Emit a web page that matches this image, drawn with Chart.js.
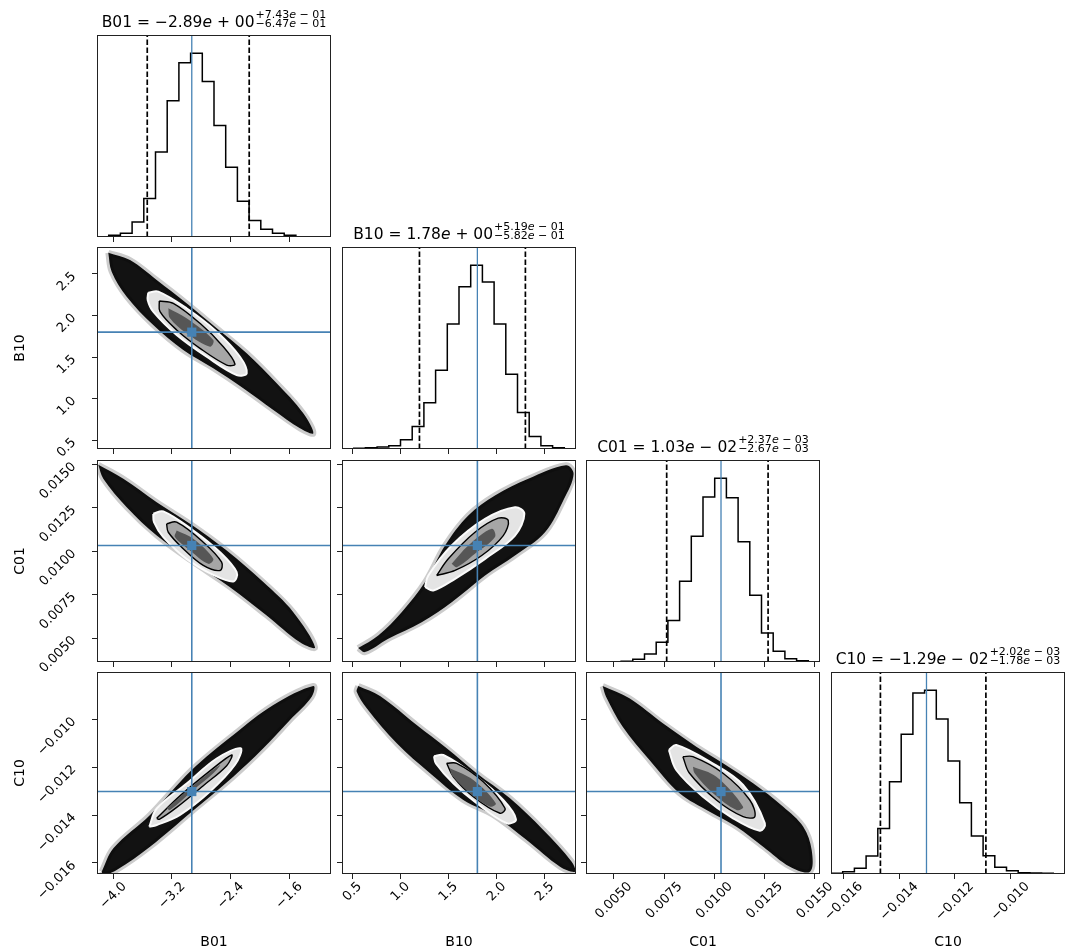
<!DOCTYPE html>
<html>
<head>
<meta charset="utf-8">
<script src="https://cdn.jsdelivr.net/npm/chart.js@4.4.1/dist/chart.umd.min.js"></script>
<style>
  body { margin: 0; background: #fff; width: 1066px; height: 949px; position: relative; overflow: hidden; font-family: 'DejaVu Sans', sans-serif; color: #000; }
  canvas { position: absolute; }
  .ttl { position: absolute; width: 320px; text-align: center; white-space: nowrap; font-size: 15.5px; line-height: 16px; z-index: 2; }
  .ss { display: inline-block; vertical-align: 0; font-size: 11px; line-height: 8.5px; text-align: left; margin-left: 1px; }
  .ss span { display: block; }
  .xl { position: absolute; width: 100px; text-align: center; font-size: 14px; line-height: 16px; z-index: 2; }
  .yl { position: absolute; width: 60px; text-align: center; font-size: 14px; line-height: 16px; transform: rotate(-90deg); z-index: 2; }
</style>
</head>
<body>
<script>
// ============================================
// CORNER PLOT: B01, B10, C01, C10
// ============================================

const names = ['B01', 'B10', 'C01', 'C10'];
const titleMid = ['\u22122.89e + 00', '1.78e + 00', '1.03e \u2212 02', '\u22121.29e \u2212 02'];
const titleUp = ['+7.43e \u2212 01', '+5.19e \u2212 01', '+2.37e \u2212 03', '+2.02e \u2212 03'];
const titleLo = ['\u22126.47e \u2212 01', '\u22125.82e \u2212 01', '\u22122.67e \u2212 03', '\u22121.78e \u2212 03'];

// axis ranges
const b01Range = [-4.222, -1.032];
const b10Range = [0.393, 2.825];
const c01Range = [0.00362, 0.01525];
const c10Range = [-0.01646, -0.00803];

// ticks
const b01Ticks = [-4.0, -3.2, -2.4, -1.6];
const b10Ticks = [0.5, 1.0, 1.5, 2.0, 2.5];
const c01Ticks = [0.005, 0.0075, 0.01, 0.0125, 0.015];
const c10Ticks = [-0.016, -0.014, -0.012, -0.010];
const b01TickText = ['\u22124.0', '\u22123.2', '\u22122.4', '\u22121.6'];
const b10TickText = ['0.5', '1.0', '1.5', '2.0', '2.5'];
const c01TickText = ['0.0050', '0.0075', '0.0100', '0.0125', '0.0150'];
const c10TickText = ['\u22120.016', '\u22120.014', '\u22120.012', '\u22120.010'];

// truth values and 16/84 quantiles
const truths = [-2.93, 1.80, 0.01033, -0.01302];
const q16 = [-3.537, 1.198, 0.00763, -0.01468];
const q84 = [-2.147, 2.299, 0.01267, -0.01088];

// histogram counts (20 bins over each axis range)
const b01Counts = [1, 5, 11, 45, 116, 256, 410, 525, 553, 468, 336, 210, 108, 50, 23, 11, 5, 1, 0, 0];
const b10Counts = [0, 2, 4, 6, 10, 28, 68, 140, 238, 378, 490, 555, 505, 378, 226, 110, 38, 10, 4, 1];
const c01Counts = [0, 0, 1, 2, 8, 24, 59, 124, 242, 377, 494, 550, 492, 360, 200, 87, 32, 10, 4, 1];
const c10Counts = [2, 7, 17, 54, 137, 277, 420, 544, 552, 466, 340, 214, 114, 55, 20, 10, 4, 3, 2, 0];

// 2D panels: sample cloud outline and density contours [x, y]
// B10 vs B01
const b10b01Cloud = [[-4.068,2.756],[-3.772,2.668],[-3.408,2.428],[-3.001,2.147],[-2.590,1.846],[-2.181,1.545],[-1.772,1.184],[-1.410,0.823],[-1.273,0.582],[-1.455,0.642],[-1.818,0.863],[-2.228,1.124],[-2.637,1.365],[-3.046,1.585],[-3.455,1.886],[-3.817,2.227],[-4.022,2.528]];
const b10b01Outer = [[-3.523,2.275],[-3.386,2.287],[-3.001,2.087],[-2.590,1.805],[-2.273,1.504],[-2.181,1.304],[-2.318,1.284],[-2.727,1.504],[-3.136,1.766],[-3.455,2.046],[-3.531,2.187]];
const b10b01Inner = [[-3.373,2.175],[-3.182,2.147],[-2.818,1.906],[-2.500,1.625],[-2.341,1.416],[-2.454,1.404],[-2.818,1.605],[-3.136,1.826],[-3.363,2.046]];
const b10b01Core = [[-3.250,2.087],[-3.001,1.967],[-2.637,1.705],[-2.682,1.625],[-3.001,1.786],[-3.227,1.967]];
// C01 vs B01
const c01b01Cloud = [[-4.204,0.01497],[-3.863,0.01417],[-3.408,0.01282],[-2.954,0.01158],[-2.454,0.01004],[-1.955,0.00822],[-1.546,0.00649],[-1.250,0.00447],[-1.455,0.00476],[-1.909,0.00630],[-2.409,0.00793],[-2.909,0.00937],[-3.408,0.01090],[-3.817,0.01253],[-4.136,0.01417]];
const c01b01Outer = [[-3.455,0.01215],[-3.318,0.01229],[-2.909,0.01119],[-2.545,0.00994],[-2.318,0.00879],[-2.363,0.00826],[-2.637,0.00864],[-3.001,0.00956],[-3.318,0.01081],[-3.445,0.01167]];
const c01b01Inner = [[-3.273,0.01158],[-3.136,0.01167],[-2.773,0.01052],[-2.523,0.00937],[-2.545,0.00889],[-2.773,0.00918],[-3.046,0.01014],[-3.250,0.01109]];
const c01b01Core = [[-3.136,0.01119],[-2.909,0.01071],[-2.637,0.00956],[-2.705,0.00927],[-2.954,0.01004],[-3.159,0.01081]];
// C01 vs B10
const c01b10Cloud = [[0.562,0.00442],[0.770,0.00515],[1.013,0.00649],[1.256,0.00822],[1.464,0.01033],[1.706,0.01206],[1.983,0.01321],[2.329,0.01417],[2.720,0.01495],[2.800,0.01445],[2.700,0.01300],[2.503,0.01109],[2.191,0.00975],[1.880,0.00860],[1.533,0.00706],[1.221,0.00591],[0.874,0.00496],[0.632,0.00419]];
const c01b10Outer = [[1.256,0.00793],[1.290,0.00860],[1.533,0.01033],[1.880,0.01186],[2.191,0.01253],[2.288,0.01215],[2.191,0.01090],[1.880,0.00956],[1.568,0.00841],[1.342,0.00774]];
const c01b10Inner = [[1.377,0.00860],[1.498,0.00956],[1.775,0.01109],[2.017,0.01190],[2.121,0.01177],[2.069,0.01090],[1.845,0.00975],[1.568,0.00889]];
const c01b10Core = [[1.533,0.00927],[1.706,0.01033],[1.949,0.01129],[1.983,0.01081],[1.775,0.00985],[1.585,0.00908]];
// C10 vs B01
const c10b01Cloud = [[-4.158,-0.016363],[-3.999,-0.015387],[-3.499,-0.013997],[-2.931,-0.012120],[-2.364,-0.010659],[-1.818,-0.009407],[-1.273,-0.008614],[-1.295,-0.009061],[-1.591,-0.010033],[-1.955,-0.011214],[-2.364,-0.012399],[-2.931,-0.013860],[-3.499,-0.015320],[-3.954,-0.016292],[-4.136,-0.016501]];
const c10b01Outer = [[-3.509,-0.014486],[-3.408,-0.013727],[-2.999,-0.012683],[-2.590,-0.011640],[-2.263,-0.011214],[-2.341,-0.011902],[-2.682,-0.013017],[-3.091,-0.013989],[-3.408,-0.014415]];
const c10b01Inner = [[-3.408,-0.014135],[-3.091,-0.013200],[-2.682,-0.012157],[-2.386,-0.011494],[-2.454,-0.011940],[-2.773,-0.012775],[-3.136,-0.013680],[-3.373,-0.014177]];
const c10b01Core = [[-3.273,-0.013718],[-2.818,-0.012537],[-2.545,-0.011912],[-2.637,-0.012257],[-2.909,-0.012954],[-3.227,-0.013789]];
// C10 vs B10
const c10b10Cloud = [[0.562,-0.008614],[0.788,-0.009031],[1.169,-0.010242],[1.481,-0.011214],[1.793,-0.012257],[2.139,-0.013300],[2.485,-0.014623],[2.780,-0.015946],[2.815,-0.016363],[2.659,-0.016155],[2.312,-0.015041],[1.965,-0.013997],[1.654,-0.013371],[1.308,-0.012257],[0.962,-0.011005],[0.650,-0.009544],[0.546,-0.008852]];
const c10b10Outer = [[1.349,-0.011549],[1.446,-0.011494],[1.793,-0.012399],[2.069,-0.013371],[2.201,-0.014177],[2.105,-0.014344],[1.793,-0.013510],[1.550,-0.012675],[1.369,-0.011840]];
const c10b10Inner = [[1.481,-0.011840],[1.585,-0.011840],[1.861,-0.012608],[2.087,-0.013718],[2.035,-0.013926],[1.758,-0.013234],[1.550,-0.012399]];
const c10b10Core = [[1.515,-0.012049],[1.758,-0.012537],[1.991,-0.013510],[1.931,-0.013651],[1.723,-0.013092],[1.533,-0.012329]];
// C10 vs C01
const c10c01Cloud = [[0.004448,-0.008614],[0.005779,-0.009127],[0.007439,-0.010172],[0.009104,-0.011147],[0.010430,-0.011840],[0.011925,-0.012675],[0.013421,-0.013651],[0.014418,-0.014486],[0.014836,-0.015459],[0.014752,-0.016363],[0.013755,-0.016155],[0.012424,-0.015320],[0.011098,-0.014486],[0.009768,-0.013860],[0.008271,-0.013092],[0.006775,-0.011702],[0.005444,-0.010313],[0.004617,-0.009061]];
const c10c01Outer = [[0.007738,-0.011285],[0.008107,-0.011077],[0.009768,-0.011772],[0.011427,-0.012746],[0.012509,-0.014344],[0.012259,-0.014653],[0.010928,-0.014135],[0.009432,-0.013234],[0.008107,-0.012120]];
const c10c01Inner = [[0.008436,-0.011564],[0.008936,-0.011564],[0.010430,-0.012257],[0.011760,-0.013371],[0.012010,-0.014068],[0.011427,-0.014068],[0.010099,-0.013371],[0.008766,-0.012257]];
const c10c01Core = [[0.008936,-0.011982],[0.010099,-0.012399],[0.011427,-0.013651],[0.011098,-0.013789],[0.009933,-0.013092],[0.009018,-0.012257]];

const ranges = [b01Range, b10Range, c01Range, c10Range];
const tickVals = [b01Ticks, b10Ticks, c01Ticks, c10Ticks];
const tickText = [b01TickText, b10TickText, c01TickText, c10TickText];
const counts = [b01Counts, b10Counts, c01Counts, c10Counts];

// Layout
const colX = [97, 342, 586, 831];
const rowY = [35, 247, 460, 672];
const PW = 234, PH = 202;
const ML = 97, MT = 26, MR = 26, MB = 75;
const BLUE = '#4682b4';
const TICK_FONT = '13px "DejaVu Sans", sans-serif';

Chart.defaults.font.family = "'DejaVu Sans', sans-serif";
Chart.defaults.color = '#000';

// Panel frame (all four sides)
const framePlugin = {
    id: 'frame',
    afterDraw(chart) {
        const {ctx, chartArea: a} = chart;
        ctx.save();
        ctx.strokeStyle = '#222';
        ctx.lineWidth = 1;
        ctx.strokeRect(a.left + 0.5, a.top + 0.5, a.width - 1, a.height - 1);
        ctx.restore();
    }
};

// Rotated tick labels, placed like matplotlib's 45 degree labels
const tickLabelPlugin = {
    id: 'tickLabels',
    afterDraw(chart, args, opts) {
        const {ctx, chartArea: a} = chart;
        ctx.save();
        ctx.font = TICK_FONT;
        ctx.fillStyle = '#000';
        ctx.textAlign = 'right';
        ctx.textBaseline = 'middle';
        if (opts.xCol !== undefined) {
            const s = chart.scales.x;
            tickVals[opts.xCol].forEach((v, i) => {
                const txt = tickText[opts.xCol][i];
                const L = ctx.measureText(txt).width;
                ctx.save();
                ctx.translate(s.getPixelForValue(v) + 0.354 * L, a.bottom + 10.5);
                ctx.rotate(-Math.PI / 4);
                ctx.fillText(txt, 0, 0);
                ctx.restore();
            });
        }
        if (opts.yRow !== undefined) {
            const s = chart.scales.y;
            tickVals[opts.yRow].forEach((v, i) => {
                ctx.save();
                ctx.translate(a.left - 23, s.getPixelForValue(v) + 0.5);
                ctx.rotate(-Math.PI / 4);
                ctx.fillText(tickText[opts.yRow][i], 0, 0);
                ctx.restore();
            });
        }
        ctx.restore();
    }
};

function xAxis(col) {
    return {
        type: 'linear', position: 'bottom', min: ranges[col][0], max: ranges[col][1],
        afterBuildTicks: s => { s.ticks = tickVals[col].map(v => ({value: v})); },
        afterFit: s => { s.height = MB; },
        grid: {drawOnChartArea: false, drawTicks: true, tickLength: 5, color: '#222'},
        border: {display: false},
        ticks: {display: false}
    };
}

function yAxis(row) {
    return {
        type: 'linear', position: 'left', min: ranges[row][0], max: ranges[row][1],
        afterBuildTicks: s => { s.ticks = tickVals[row].map(v => ({value: v})); },
        afterFit: s => { s.width = ML; },
        grid: {drawOnChartArea: false, drawTicks: true, tickLength: 5, color: '#222'},
        border: {display: false},
        ticks: {display: false}
    };
}

function histYAxis(col) {
    return {
        type: 'linear', position: 'left', min: 0, max: 1.1 * Math.max(...counts[col]),
        afterFit: s => { s.width = ML; },
        grid: {display: false}, border: {display: false}, ticks: {display: false}
    };
}

function poly(pts, fillColor, lineColor, lineWidth, order) {
    const data = pts.concat([pts[0]]).map(p => ({x: p[0], y: p[1]}));
    return {
        data, fill: 'shape', backgroundColor: fillColor, borderColor: lineColor,
        borderWidth: lineWidth, pointRadius: 0, tension: 0.35, capBezierPoints: false,
        clip: 0, order
    };
}

function seg(x0, y0, x1, y1, color, width, dash, order) {
    return {
        data: [{x: x0, y: y0}, {x: x1, y: y1}], borderColor: color, borderWidth: width,
        borderDash: dash, pointRadius: 0, fill: false, clip: 0, order
    };
}

function histSets(col) {
    const r = ranges[col];
    const c = counts[col];
    const w = (r[1] - r[0]) / c.length;
    const pts = [{x: r[0], y: 0}];
    c.forEach((v, i) => pts.push({x: r[0] + i * w, y: v}));
    pts.push({x: r[1], y: c[c.length - 1]}, {x: r[1], y: 0});
    const top = 1.1 * Math.max(...c);
    return [
        {data: pts, stepped: true, borderColor: '#000', borderWidth: 1.5, pointRadius: 0, fill: false, clip: 0, order: 3},
        seg(q16[col], 0, q16[col], top, '#000', 1.7, [5.5, 2.5], 2),
        seg(q84[col], 0, q84[col], top, '#000', 1.7, [5.5, 2.5], 2),
        seg(truths[col], 0, truths[col], top, BLUE, 1.3, [], 1)
    ];
}

function pairSets(row, col, shapes) {
    const xr = ranges[col], yr = ranges[row];
    return [
        poly(shapes[0], '#121212', 'rgba(0,0,0,0.2)', 6, 10),
        poly(shapes[1], '#e4e4e4', '#fbfbfb', 2, 9),
        poly(shapes[2], '#a6a6a6', '#000000', 1.4, 8),
        poly(shapes[3], '#565656', 'rgba(0,0,0,0)', 0, 7),
        seg(truths[col], yr[0], truths[col], yr[1], BLUE, 1.6, [], 2),
        seg(xr[0], truths[row], xr[1], truths[row], BLUE, 1.6, [], 2),
        {data: [{x: truths[col], y: truths[row]}], showLine: false, pointStyle: 'rect',
         pointRadius: 6.5, pointBackgroundColor: BLUE, pointBorderWidth: 0, clip: 0, order: 0}
    ];
}

function addPanel(row, col, datasets, yOpts, labels) {
    const cv = document.createElement('canvas');
    cv.width = ML + PW + MR;
    cv.height = MT + PH + MB;
    cv.style.left = (colX[col] - ML) + 'px';
    cv.style.top = (rowY[row] - MT) + 'px';
    document.body.appendChild(cv);
    new Chart(cv, {
        type: 'line',
        data: {datasets},
        options: {
            responsive: false, animation: false, devicePixelRatio: 1, events: [],
            layout: {padding: {left: 0, top: MT, right: MR, bottom: 0}},
            plugins: {legend: {display: false}, tooltip: {enabled: false}, tickLabels: labels},
            scales: {x: xAxis(col), y: yOpts}
        },
        plugins: [framePlugin, tickLabelPlugin]
    });
}

// Diagonal histograms
for (let i = 0; i < 4; i++) {
    addPanel(i, i, histSets(i), histYAxis(i), i === 3 ? {xCol: 3} : {});
}

// Off-diagonal panels
const pairs = [
    {row: 1, col: 0, shapes: [b10b01Cloud, b10b01Outer, b10b01Inner, b10b01Core]},
    {row: 2, col: 0, shapes: [c01b01Cloud, c01b01Outer, c01b01Inner, c01b01Core]},
    {row: 2, col: 1, shapes: [c01b10Cloud, c01b10Outer, c01b10Inner, c01b10Core]},
    {row: 3, col: 0, shapes: [c10b01Cloud, c10b01Outer, c10b01Inner, c10b01Core]},
    {row: 3, col: 1, shapes: [c10b10Cloud, c10b10Outer, c10b10Inner, c10b10Core]},
    {row: 3, col: 2, shapes: [c10c01Cloud, c10c01Outer, c10c01Inner, c10c01Core]}
];
pairs.forEach(p => {
    const labels = {};
    if (p.row === 3) labels.xCol = p.col;
    if (p.col === 0) labels.yRow = p.row;
    addPanel(p.row, p.col, pairSets(p.row, p.col, p.shapes), yAxis(p.row), labels);
});

// Titles and axis labels
const fmt = s => s.replace(/e/g, '<i>e</i>');
names.forEach((nm, i) => {
    const t = document.createElement('div');
    t.className = 'ttl';
    t.innerHTML = nm + ' = ' + fmt(titleMid[i]) +
        '<span class="ss"><span>' + fmt(titleUp[i]) + '</span><span>' + fmt(titleLo[i]) + '</span></span>';
    t.style.left = (colX[i] + PW / 2 - 160) + 'px';
    t.style.top = (rowY[i] - 24) + 'px';
    document.body.appendChild(t);

    const xl = document.createElement('div');
    xl.className = 'xl';
    xl.textContent = nm;
    xl.style.left = (colX[i] + PW / 2 - 50) + 'px';
    xl.style.top = '933px';
    document.body.appendChild(xl);

    if (i > 0) {
        const yl = document.createElement('div');
        yl.className = 'yl';
        yl.textContent = nm;
        yl.style.left = (19 - 30) + 'px';
        yl.style.top = (rowY[i] + PH / 2 - 8) + 'px';
        document.body.appendChild(yl);
    }
});
</script>
</body>
</html>
